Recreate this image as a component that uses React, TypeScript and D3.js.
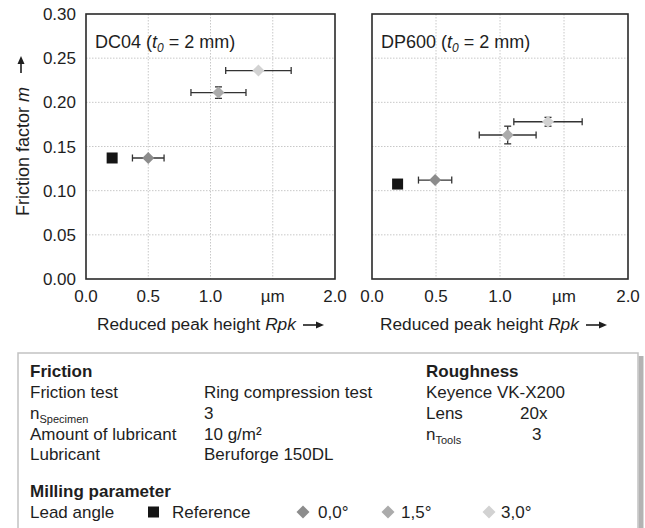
import React from "react";
import * as d3 from "d3";

const materials = ["DC04", "DP600"];
const seriesNames = ["Reference", "0,0°", "1,5°", "3,0°"];
const seriesColors = ["#151515", "#8c8c8c", "#ababab", "#d2d2d2"];

const dc04Rpk = [0.21, 0.5, 1.064, 1.385];
const dc04RpkErr = [0, 0.127, 0.221, 0.263];
const dc04M = [0.137, 0.137, 0.211, 0.236];
const dc04MErr = [0, 0.0015, 0.0065, 0.0015];

const dp600Rpk = [0.2, 0.493, 1.06, 1.375];
const dp600RpkErr = [0, 0.13, 0.222, 0.267];
const dp600M = [0.1075, 0.112, 0.163, 0.178];
const dp600MErr = [0, 0.001, 0.01, 0.005];

const xTicks = [0, 0.5, 1, 1.5, 2];
const xTickLabels = ["0.0", "0.5", "1.0", "µm", "2.0"];
const yTicks = [0, 0.05, 0.1, 0.15, 0.2, 0.25, 0.3];
const yTickLabels = ["0.00", "0.05", "0.10", "0.15", "0.20", "0.25", "0.30"];

const FONT = "'Liberation Sans', Arial, sans-serif";
const TXT = "#1e1e1e";

const panelData = [
  { rpk: dc04Rpk, rpkErr: dc04RpkErr, m: dc04M, mErr: dc04MErr },
  { rpk: dp600Rpk, rpkErr: dp600RpkErr, m: dp600M, mErr: dp600MErr },
];
const panelX = [
  [86, 335],
  [372, 628],
];
const TOP = 14;
const BOTTOM = 279;

function Diamond({ cx, cy, r, fill }: { cx: number; cy: number; r: number; fill: string }) {
  return (
    <path
      d={`M${cx},${cy - r}L${cx + r},${cy}L${cx},${cy + r}L${cx - r},${cy}Z`}
      fill={fill}
    />
  );
}

function Arrow({ x1, y1, x2, y2 }: { x1: number; y1: number; x2: number; y2: number }) {
  const ang = Math.atan2(y2 - y1, x2 - x1);
  const L = 8;
  const W = 3.5;
  const bx = x2 - L * Math.cos(ang);
  const by = y2 - L * Math.sin(ang);
  const px = -Math.sin(ang) * W;
  const py = Math.cos(ang) * W;
  return (
    <g>
      <line x1={x1} y1={y1} x2={bx} y2={by} stroke={TXT} strokeWidth={1.6} />
      <path d={`M${x2},${y2}L${bx + px},${by + py}L${bx - px},${by - py}Z`} fill={TXT} />
    </g>
  );
}

function Panel({ idx }: { idx: number }) {
  const [x0, x1] = panelX[idx];
  const x = d3.scaleLinear().domain([0, 2]).range([x0, x1]);
  const y = d3.scaleLinear().domain([0, 0.3]).range([BOTTOM, TOP]);
  const d = panelData[idx];
  const titleStart = x0 + 9;
  const xTitleStart = x0 + (idx === 0 ? 11 : 8);
  return (
    <g>
      {yTicks.slice(1, -1).map((t) => (
        <line key={"gy" + t} x1={x0} x2={x1} y1={y(t)} y2={y(t)} stroke="#c8c8c8" strokeWidth={1} strokeDasharray="1.5,1.5" />
      ))}
      {xTicks.slice(1, -1).map((t) => (
        <line key={"gx" + t} x1={x(t)} x2={x(t)} y1={TOP} y2={BOTTOM} stroke="#c8c8c8" strokeWidth={1} strokeDasharray="1.5,1.5" />
      ))}
      <rect x={x0} y={TOP} width={x1 - x0} height={BOTTOM - TOP} fill="none" stroke="#2a2a2a" strokeWidth={1.6} />
      {idx === 0 &&
        yTicks.map((t, i) => (
          <text key={"yl" + t} x={76} y={y(t)} dy="0.36em" textAnchor="end" fontSize={17} fontFamily={FONT} fill={TXT}>
            {yTickLabels[i]}
          </text>
        ))}
      {xTicks.map((t, i) => (
        <text key={"xl" + t} x={x(t)} y={302} textAnchor="middle" fontSize={17} fontFamily={FONT} fill={TXT}>
          {xTickLabels[i]}
        </text>
      ))}
      <text x={titleStart} y={48} fontSize={18} fontFamily={FONT} fill={TXT}>
        {materials[idx]} (<tspan fontStyle="italic">t</tspan>
        <tspan fontStyle="italic" fontSize={12} dy={4}>0</tspan>
        <tspan dy={-4}> = 2 mm)</tspan>
      </text>
      <text x={xTitleStart} y={330} fontSize={17.3} fontFamily={FONT} fill={TXT}>
        Reduced peak height <tspan fontStyle="italic">Rpk</tspan>
      </text>
      <Arrow x1={xTitleStart + 206} y1={325} x2={xTitleStart + 227} y2={325} />
      {d.rpk.map((v, i) => {
        const cx = x(v);
        const cy = y(d.m[i]);
        const parts: any[] = [];
        if (d.rpkErr[i] > 0) {
          const a = x(v - d.rpkErr[i]);
          const b = x(v + d.rpkErr[i]);
          parts.push(
            <g key={"ex" + i} stroke="#333" strokeWidth={1.3}>
              <line x1={a} x2={b} y1={cy} y2={cy} />
              <line x1={a} x2={a} y1={cy - 3.5} y2={cy + 3.5} />
              <line x1={b} x2={b} y1={cy - 3.5} y2={cy + 3.5} />
            </g>
          );
        }
        if (d.mErr[i] > 0) {
          const a = y(d.m[i] - d.mErr[i]);
          const b = y(d.m[i] + d.mErr[i]);
          parts.push(
            <g key={"ey" + i} stroke="#333" strokeWidth={1.3}>
              <line x1={cx} x2={cx} y1={a} y2={b} />
              <line x1={cx - 3.5} x2={cx + 3.5} y1={a} y2={a} />
              <line x1={cx - 3.5} x2={cx + 3.5} y1={b} y2={b} />
            </g>
          );
        }
        if (i === 0) {
          parts.push(<rect key={"m" + i} x={cx - 5.5} y={cy - 5.5} width={11} height={11} fill={seriesColors[0]} />);
        } else {
          parts.push(<Diamond key={"m" + i} cx={cx} cy={cy} r={6} fill={seriesColors[i]} />);
        }
        return <g key={"pt" + i}>{parts}</g>;
      })}
    </g>
  );
}

const frictionLabels = ["Friction test", "n", "Amount of lubricant", "Lubricant"];
const frictionValues = ["Ring compression test", "3", "10 g/m²", "Beruforge 150DL"];
const roughLabels = ["Keyence VK-X200", "Lens", "n"];
const roughValues = ["", "20x", "3"];

export default function App() {
  const rowY = [398, 419, 440, 460];
  const fs = 17;
  return (
    <svg width={645} height={528} style={{ position: "absolute", left: 0, top: 0, display: "block", background: "#fff" }}>
      <rect x={0} y={0} width={645} height={528} fill="#fff" />
      <text
        transform="translate(28.5,151.5) rotate(-90)"
        textAnchor="middle"
        fontSize={18}
        fontFamily={FONT}
        fill={TXT}
      >
        Friction factor <tspan fontStyle="italic">m</tspan>
      </text>
      <Arrow x1={21} y1={73} x2={21} y2={56} />
      <Panel idx={0} />
      <Panel idx={1} />

      <rect x={638.5} y={356} width={5} height={180} fill="#b3b3b3" />
      <rect x={18} y={353} width={620} height={190} fill="#fff" stroke="#c2c2c2" strokeWidth={1.5} />
      <g fontFamily={FONT} fontSize={fs} fill={TXT}>
        <text x={30} y={377} fontWeight="bold">Friction</text>
        {frictionLabels.map((l, i) => (
          <text key={"fl" + i} x={30} y={rowY[i]}>
            {l}
            {i === 1 && <tspan fontSize={11} dy={4}>Specimen</tspan>}
          </text>
        ))}
        {frictionValues.map((v, i) => (
          <text key={"fv" + i} x={204} y={rowY[i]}>{v}</text>
        ))}
        <text x={426} y={377} fontWeight="bold">Roughness</text>
        {roughLabels.map((l, i) => (
          <text key={"rl" + i} x={426} y={rowY[i]}>
            {l}
            {i === 2 && <tspan fontSize={11} dy={4}>Tools</tspan>}
          </text>
        ))}
        {roughValues.map((v, i) => (
          <text key={"rv" + i} x={i === 1 ? 520 : 532} y={rowY[i]}>{v}</text>
        ))}
        <text x={30} y={497} fontWeight="bold">Milling parameter</text>
        <text x={30} y={518}>Lead angle</text>
        <rect x={148} y={506.5} width={11} height={11} fill={seriesColors[0]} />
        <text x={172} y={518}>{seriesNames[0]}</text>
        <Diamond cx={303} cy={512} r={6.5} fill={seriesColors[1]} />
        <text x={318} y={518}>{seriesNames[1]}</text>
        <Diamond cx={388} cy={512} r={6.5} fill={seriesColors[2]} />
        <text x={401} y={518}>{seriesNames[2]}</text>
        <Diamond cx={489} cy={512} r={6.5} fill={seriesColors[3]} />
        <text x={501} y={518}>{seriesNames[3]}</text>
      </g>
    </svg>
  );
}
